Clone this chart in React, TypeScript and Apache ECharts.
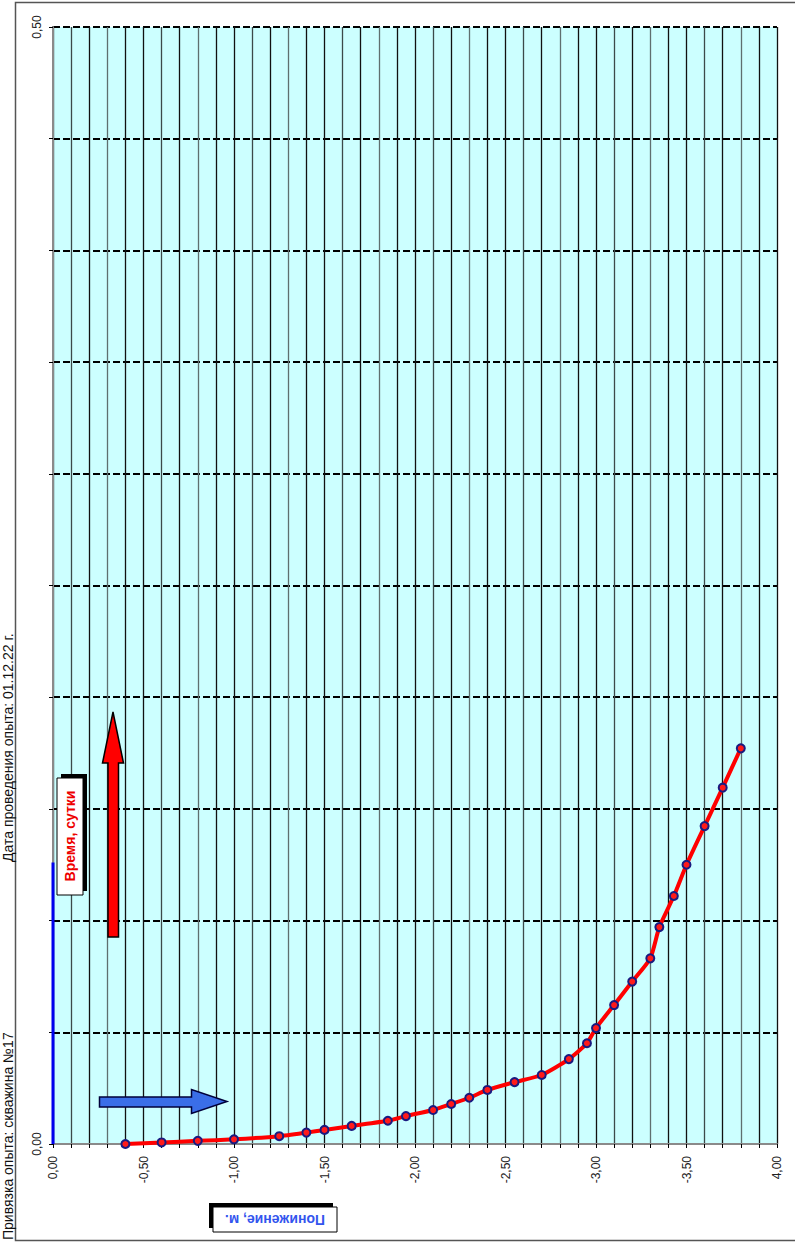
import React, { useEffect, useRef } from "react";
import * as echarts from "echarts";

// Drawdown (m) and elapsed time (days) of the pumping test
const drawdown: number[] = [
  0.4, 0.6, 0.8, 1.0, 1.25, 1.4, 1.5, 1.65, 1.85, 1.95, 2.1, 2.2, 2.3, 2.4,
  2.55, 2.7, 2.85, 2.95, 3.0, 3.1, 3.2, 3.3, 3.35, 3.43, 3.5, 3.6, 3.7, 3.8,
];
const timeDays: number[] = [
  0.0, 0.0007, 0.0014, 0.0021, 0.0035, 0.0051, 0.0063, 0.0081, 0.0104, 0.0125,
  0.0152, 0.0179, 0.0207, 0.0242, 0.0277, 0.0309, 0.038, 0.0451, 0.0519,
  0.0622, 0.0727, 0.0831, 0.0971, 0.111, 0.125, 0.1423, 0.1595, 0.1771,
];
// Recovery marker along the zero-drawdown axis
const recoveryTime: number[] = [0, 0.126];

const xLabelValues: number[] = [0, -0.5, -1, -1.5, -2, -2.5, -3, -3.5, -4];
const yLabelValues: number[] = [0, 0.5];

const FONT = 'Arial, "Liberation Sans", sans-serif';

const fmt = (v: number): string => {
  if (Math.abs(v) < 1e-9) return "0,00";
  return v.toFixed(2).replace(".", ",");
};

const isLabel = (v: number, list: number[]) =>
  list.some((l) => Math.abs(l - v) < 1e-6);

export default function App() {
  const ref = useRef<HTMLDivElement>(null);

  useEffect(() => {
    if (!ref.current) return;
    const chart = echarts.init(ref.current, undefined, { renderer: "svg" });

    const mainData = drawdown.map((d, i) => [-d, timeDays[i]]);
    const recoveryData = recoveryTime.map((t) => [0, t]);

    chart.setOption({
      animation: false,
      backgroundColor: "#ffffff",
      grid: {
        left: 53,
        top: 27,
        right: 18,
        bottom: 98,
        show: true,
        backgroundColor: "#ccffff",
        borderWidth: 0,
      },
      xAxis: [
        {
          type: "value",
          min: -4,
          max: 0,
          interval: 0.1,
          inverse: true,
          position: "bottom",
          axisLine: { show: true, lineStyle: { color: "#000", width: 2 } },
          axisTick: { show: true, length: 4, lineStyle: { color: "#000" } },
          axisLabel: {
            rotate: 90,
            margin: 12,
            fontSize: 12,
            color: "#222",
            fontFamily: FONT,
            formatter: (v: number) => {
              if (!isLabel(v, xLabelValues)) return "";
              if (Math.abs(v + 4) < 1e-6) return "4,00";
              return fmt(v);
            },
          },
          splitLine: {
            show: true,
            lineStyle: {
              color: ["#111", "#111", "#5f6f6f", "#111", "#3c4a4a"],
              width: 1.3,
            },
          },
        },
        {
          type: "value",
          min: -4,
          max: 0,
          inverse: true,
          position: "top",
          axisLine: { show: true, lineStyle: { color: "#8a8a8a", width: 2 } },
          axisTick: { show: false },
          axisLabel: { show: false },
          splitLine: { show: false },
        },
      ],
      yAxis: [
        {
          type: "value",
          min: 0,
          max: 0.5,
          interval: 0.05,
          position: "left",
          axisLine: { show: true, lineStyle: { color: "#000", width: 2 } },
          axisTick: { show: true, length: 4, lineStyle: { color: "#000" } },
          axisLabel: {
            rotate: 90,
            margin: 10,
            fontSize: 12,
            color: "#222",
            fontFamily: FONT,
            formatter: (v: number) => (isLabel(v, yLabelValues) ? fmt(v) : ""),
          },
          splitLine: {
            show: true,
            lineStyle: { color: "#000", width: 1.8, type: [7, 3] },
          },
        },
        {
          type: "value",
          min: 0,
          max: 0.5,
          position: "right",
          axisLine: { show: true, lineStyle: { color: "#8a8a8a", width: 2 } },
          axisTick: { show: false },
          axisLabel: { show: false },
          splitLine: { show: false },
        },
      ],
      series: [
        {
          type: "line",
          name: "Понижение",
          data: mainData,
          smooth: 0.2,
          symbol: "circle",
          symbolSize: 8,
          lineStyle: { color: "#ff0000", width: 4 },
          itemStyle: { color: "#ff1a1a", borderColor: "#1a1a80", borderWidth: 2 },
          z: 5,
        },
        {
          type: "line",
          name: "Восстановление",
          data: recoveryData,
          symbol: "none",
          lineStyle: { color: "#0000ee", width: 3 },
          z: 4,
        },
      ],
      graphic: [
        // outer frame of the sheet
        {
          type: "rect",
          shape: { x: 15.5, y: 2.5, width: 800, height: 1238 },
          style: { fill: "none", stroke: "#555", lineWidth: 1.5 },
          z: 1,
        },
        // page header, written along the left edge
        {
          type: "text",
          x: 7.5,
          y: 1240,
          rotation: Math.PI / 2,
          style: {
            text: "Привязка опыта: скважина №17",
            fontSize: 14,
            fontFamily: FONT,
            fill: "#111",
            align: "left",
            verticalAlign: "middle",
          },
          z: 10,
        },
        {
          type: "text",
          x: 7.5,
          y: 862,
          rotation: Math.PI / 2,
          style: {
            text: "Дата проведения опыта: 01.12.22 г.",
            fontSize: 14,
            fontFamily: FONT,
            fill: "#111",
            align: "left",
            verticalAlign: "middle",
          },
          z: 10,
        },
        // time axis caption with shadow
        {
          type: "rect",
          shape: { x: 61, y: 774, width: 26, height: 117 },
          style: { fill: "#000" },
          z: 10,
        },
        {
          type: "rect",
          shape: { x: 57, y: 778, width: 26, height: 117 },
          style: { fill: "#fff", stroke: "#000", lineWidth: 1 },
          z: 11,
        },
        {
          type: "text",
          x: 70,
          y: 836,
          rotation: Math.PI / 2,
          style: {
            text: "Время, сутки",
            fontSize: 14,
            fontWeight: "bold",
            fontFamily: FONT,
            fill: "#ee0000",
            align: "center",
            verticalAlign: "middle",
          },
          z: 12,
        },
        // drawdown axis caption with shadow
        {
          type: "rect",
          shape: { x: 209, y: 1203, width: 124, height: 25 },
          style: { fill: "#000" },
          z: 10,
        },
        {
          type: "rect",
          shape: { x: 213, y: 1207, width: 124, height: 25 },
          style: { fill: "#fff", stroke: "#000", lineWidth: 1 },
          z: 11,
        },
        {
          type: "text",
          x: 275,
          y: 1219.5,
          rotation: Math.PI,
          style: {
            text: "Понижение, м.",
            fontSize: 14,
            fontWeight: "bold",
            fontFamily: FONT,
            fill: "#3355ee",
            align: "center",
            verticalAlign: "middle",
          },
          z: 12,
        },
        // red arrow along the time direction
        {
          type: "polygon",
          shape: {
            points: [
              [108, 937],
              [118.5, 937],
              [118.5, 763],
              [123.5, 763],
              [113, 712],
              [102.5, 763],
              [108, 763],
            ],
          },
          style: { fill: "#ff0000", stroke: "#000", lineWidth: 1.5 },
          z: 12,
        },
        // blue arrow along the drawdown direction
        {
          type: "polygon",
          shape: {
            points: [
              [99.5, 1097],
              [191.5, 1097],
              [191.5, 1089.5],
              [227, 1101.5],
              [191.5, 1113.5],
              [191.5, 1107],
              [99.5, 1107],
            ],
          },
          style: { fill: "#3a6ee8", stroke: "#00003a", lineWidth: 1.5 },
          z: 12,
        },
      ],
    });

    return () => chart.dispose();
  }, []);

  return (
    <div
      ref={ref}
      style={{ position: "absolute", left: 0, top: 0, width: 795, height: 1242 }}
    />
  );
}
